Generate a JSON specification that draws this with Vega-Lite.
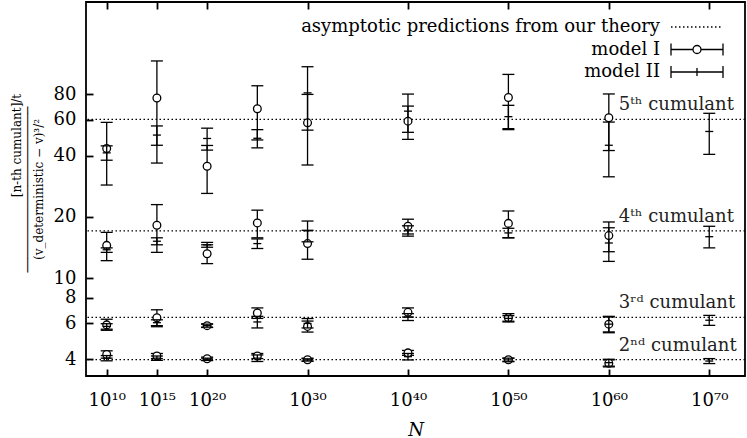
{
  "$schema": "https://vega.github.io/schema/vega-lite/v6.json",
  "width": 659,
  "height": 374,
  "autosize": {"type": "none"},
  "padding": {"left": 86, "top": 2, "right": 2, "bottom": 62},
  "background": "white",
  "config": {
    "view": {"stroke": "black", "strokeWidth": 1.8},
    "font": "DejaVu Serif",
    "axis": {"grid": false, "domain": false, "tickColor": "black", "tickWidth": 1.8, "labelColor": "black", "labelFont": "DejaVu Serif", "labelFontSize": 18, "titleFont": "DejaVu Serif", "titleColor": "black", "titleFontWeight": "normal"}
  },
  "datasets": {
    "points": [
      {"N": 10, "model": "model I", "cumulant": 5, "value": 43.4, "lo": 28.7, "hi": 58.3},
      {"N": 10, "model": "model II", "cumulant": 5, "value": 41.3, "lo": 38.0, "hi": 44.7},
      {"N": 10, "model": "model I", "cumulant": 4, "value": 14.5, "lo": 12.2, "hi": 16.8},
      {"N": 10, "model": "model II", "cumulant": 4, "value": 13.8, "lo": 13.4, "hi": 14.1},
      {"N": 10, "model": "model I", "cumulant": 3, "value": 5.9, "lo": 5.55, "hi": 6.29},
      {"N": 10, "model": "model II", "cumulant": 3, "value": 5.8, "lo": 5.62, "hi": 5.98},
      {"N": 10, "model": "model I", "cumulant": 2, "value": 4.22, "lo": 4.05, "hi": 4.4},
      {"N": 10, "model": "model II", "cumulant": 2, "value": 4.05, "lo": 3.93, "hi": 4.17},
      {"N": 15, "model": "model I", "cumulant": 5, "value": 76.8, "lo": 36.8, "hi": 116.8},
      {"N": 15, "model": "model II", "cumulant": 5, "value": 50.5, "lo": 45.0, "hi": 56.0},
      {"N": 15, "model": "model I", "cumulant": 4, "value": 18.2, "lo": 13.4, "hi": 23.0},
      {"N": 15, "model": "model II", "cumulant": 4, "value": 15.2, "lo": 14.6, "hi": 15.8},
      {"N": 15, "model": "model I", "cumulant": 3, "value": 6.4, "lo": 5.78, "hi": 7.0},
      {"N": 15, "model": "model II", "cumulant": 3, "value": 6.05, "lo": 5.85, "hi": 6.25},
      {"N": 15, "model": "model I", "cumulant": 2, "value": 4.15, "lo": 4.03, "hi": 4.27},
      {"N": 15, "model": "model II", "cumulant": 2, "value": 4.05, "lo": 3.95, "hi": 4.15},
      {"N": 20, "model": "model I", "cumulant": 5, "value": 35.5, "lo": 26.1, "hi": 44.9},
      {"N": 20, "model": "model II", "cumulant": 5, "value": 48.6, "lo": 42.6, "hi": 54.6},
      {"N": 20, "model": "model I", "cumulant": 4, "value": 13.2, "lo": 11.8, "hi": 14.6},
      {"N": 20, "model": "model II", "cumulant": 4, "value": 14.6, "lo": 14.2, "hi": 15.0},
      {"N": 20, "model": "model I", "cumulant": 3, "value": 5.85, "lo": 5.73, "hi": 5.97},
      {"N": 20, "model": "model II", "cumulant": 3, "value": 5.85, "lo": 5.75, "hi": 5.95},
      {"N": 20, "model": "model I", "cumulant": 2, "value": 4.02, "lo": 3.94, "hi": 4.1},
      {"N": 20, "model": "model II", "cumulant": 2, "value": 4.0, "lo": 3.95, "hi": 4.05},
      {"N": 25, "model": "model I", "cumulant": 5, "value": 68.0, "lo": 47.8, "hi": 88.2},
      {"N": 25, "model": "model II", "cumulant": 5, "value": 48.7, "lo": 43.7, "hi": 53.7},
      {"N": 25, "model": "model I", "cumulant": 4, "value": 18.7, "lo": 15.8, "hi": 21.6},
      {"N": 25, "model": "model II", "cumulant": 4, "value": 14.8, "lo": 14.0, "hi": 15.6},
      {"N": 25, "model": "model I", "cumulant": 3, "value": 6.75, "lo": 6.35, "hi": 7.15},
      {"N": 25, "model": "model II", "cumulant": 3, "value": 6.1, "lo": 5.7, "hi": 6.5},
      {"N": 25, "model": "model I", "cumulant": 2, "value": 4.15, "lo": 4.03, "hi": 4.27},
      {"N": 25, "model": "model II", "cumulant": 2, "value": 4.05, "lo": 3.9, "hi": 4.2},
      {"N": 30, "model": "model I", "cumulant": 5, "value": 58.0, "lo": 36.0, "hi": 80.0},
      {"N": 30, "model": "model II", "cumulant": 5, "value": 81.4, "lo": 53.4, "hi": 109.4},
      {"N": 30, "model": "model I", "cumulant": 4, "value": 14.8, "lo": 12.4, "hi": 17.2},
      {"N": 30, "model": "model II", "cumulant": 4, "value": 17.1, "lo": 15.1, "hi": 19.1},
      {"N": 30, "model": "model I", "cumulant": 3, "value": 5.8, "lo": 5.44, "hi": 6.16},
      {"N": 30, "model": "model II", "cumulant": 3, "value": 6.0, "lo": 5.7, "hi": 6.34},
      {"N": 30, "model": "model I", "cumulant": 2, "value": 3.98, "lo": 3.91, "hi": 4.05},
      {"N": 30, "model": "model II", "cumulant": 2, "value": 3.97, "lo": 3.92, "hi": 4.02},
      {"N": 40, "model": "model I", "cumulant": 5, "value": 59.1, "lo": 48.1, "hi": 70.1},
      {"N": 40, "model": "model II", "cumulant": 5, "value": 66.2, "lo": 52.1, "hi": 80.3},
      {"N": 40, "model": "model I", "cumulant": 4, "value": 18.0, "lo": 16.5, "hi": 19.5},
      {"N": 40, "model": "model II", "cumulant": 4, "value": 17.1, "lo": 16.1, "hi": 18.1},
      {"N": 40, "model": "model I", "cumulant": 3, "value": 6.8, "lo": 6.45, "hi": 7.15},
      {"N": 40, "model": "model II", "cumulant": 3, "value": 6.45, "lo": 6.2, "hi": 6.7},
      {"N": 40, "model": "model I", "cumulant": 2, "value": 4.3, "lo": 4.18, "hi": 4.42},
      {"N": 40, "model": "model II", "cumulant": 2, "value": 4.12, "lo": 3.97, "hi": 4.27},
      {"N": 50, "model": "model I", "cumulant": 5, "value": 77.3, "lo": 54.3, "hi": 100.3},
      {"N": 50, "model": "model II", "cumulant": 5, "value": 62.2, "lo": 53.7, "hi": 70.7},
      {"N": 50, "model": "model I", "cumulant": 4, "value": 18.6, "lo": 15.8, "hi": 21.4},
      {"N": 50, "model": "model II", "cumulant": 4, "value": 16.7, "lo": 15.8, "hi": 17.6},
      {"N": 50, "model": "model I", "cumulant": 3, "value": 6.4, "lo": 6.1, "hi": 6.7},
      {"N": 50, "model": "model II", "cumulant": 3, "value": 6.35, "lo": 6.15, "hi": 6.55},
      {"N": 50, "model": "model I", "cumulant": 2, "value": 3.98, "lo": 3.91, "hi": 4.05},
      {"N": 50, "model": "model II", "cumulant": 2, "value": 3.97, "lo": 3.89, "hi": 4.05},
      {"N": 60, "model": "model I", "cumulant": 5, "value": 61.4, "lo": 42.4, "hi": 80.4},
      {"N": 60, "model": "model II", "cumulant": 5, "value": 45.0, "lo": 31.5, "hi": 58.5},
      {"N": 60, "model": "model I", "cumulant": 4, "value": 16.2, "lo": 13.5, "hi": 18.9},
      {"N": 60, "model": "model II", "cumulant": 4, "value": 14.9, "lo": 12.1, "hi": 17.7},
      {"N": 60, "model": "model I", "cumulant": 3, "value": 5.95, "lo": 5.45, "hi": 6.45},
      {"N": 60, "model": "model II", "cumulant": 3, "value": 5.95, "lo": 5.4, "hi": 6.5},
      {"N": 60, "model": "model I", "cumulant": 2, "value": 3.82, "lo": 3.67, "hi": 3.97},
      {"N": 60, "model": "model II", "cumulant": 2, "value": 3.85, "lo": 3.7, "hi": 4.0},
      {"N": 70, "model": "model II", "cumulant": 5, "value": 52.6, "lo": 40.6, "hi": 64.6},
      {"N": 70, "model": "model II", "cumulant": 4, "value": 16.0, "lo": 14.1, "hi": 18.0},
      {"N": 70, "model": "model II", "cumulant": 3, "value": 6.22, "lo": 5.87, "hi": 6.57},
      {"N": 70, "model": "model II", "cumulant": 2, "value": 3.92, "lo": 3.81, "hi": 4.03}
    ],
    "predictions": [
      {"cumulant": 2, "prediction": 3.985, "label": "2ⁿᵈ cumulant"},
      {"cumulant": 3, "prediction": 6.43, "label": "3ʳᵈ cumulant"},
      {"cumulant": 4, "prediction": 17.1, "label": "4ᵗʰ cumulant"},
      {"cumulant": 5, "prediction": 60.3, "label": "5ᵗʰ cumulant"}
    ],
    "legendEntries": [
      {"series": "asymptotic predictions from our theory"},
      {"series": "model I"},
      {"series": "model II"}
    ]
  },
  "layer": [
    {
      "data": {"name": "predictions"},
      "mark": {"type": "rule", "color": "black", "strokeWidth": 1.3, "strokeDash": [1.5, 2.5]},
      "encoding": {
        "y": {"field": "prediction", "type": "quantitative", "scale": {"type": "log", "domain": [3.31, 227.5], "nice": false},
          "axis": {"values": [4, 6, 8, 10, 20, 40, 60, 80], "format": "d", "tickSize": -7, "labelPadding": 17,
            "title": ["\u2800\u2800\u2800\u2800\u2800\u2800\u2800\u2800\u2800\u2800[n-th cumulant]/t", "───────────────────────", "(v_deterministic − v)³/²"],
            "titleFontSize": 12, "titleLineHeight": 11, "titlePadding": 8}}
      }
    },
    {
      "data": {"name": "points"},
      "transform": [{"filter": "datum.model === 'model I'"}],
      "mark": {"type": "rule", "color": "black", "strokeWidth": 1.3},
      "encoding": {
        "x": {"field": "N", "type": "quantitative", "scale": {"domain": [7.94, 73.56], "nice": false, "zero": false},
          "axis": {"values": [10, 15, 20, 30, 40, 50, 60, 70], "format": "d", "tickSize": -7, "labelPadding": 22,
            "labelExpr": "'10' + replace(replace(replace(replace(replace(replace(replace(replace(datum.label,'0','⁰'),'1','¹'),'2','²'),'3','³'),'4','⁴'),'5','⁵'),'6','⁶'),'7','⁷')",
            "title": "N", "titleFontStyle": "italic", "titleFontSize": 18, "titlePadding": 12}},
        "y": {"field": "lo", "type": "quantitative", "scale": {"type": "log", "domain": [3.31, 227.5], "nice": false}, "axis": null},
        "y2": {"field": "hi"}
      }
    },
    {
      "data": {"name": "points"},
      "transform": [{"filter": "datum.model === 'model I'"}],
      "mark": {"type": "tick", "orient": "horizontal", "color": "black", "size": 12, "thickness": 1.3, "opacity": 1},
      "encoding": {
        "x": {"field": "N", "type": "quantitative", "axis": null},
        "y": {"field": "lo", "type": "quantitative", "axis": null}
      }
    },
    {
      "data": {"name": "points"},
      "transform": [{"filter": "datum.model === 'model I'"}],
      "mark": {"type": "tick", "orient": "horizontal", "color": "black", "size": 12, "thickness": 1.3, "opacity": 1},
      "encoding": {
        "x": {"field": "N", "type": "quantitative", "axis": null},
        "y": {"field": "hi", "type": "quantitative", "axis": null}
      }
    },
    {
      "data": {"name": "points"},
      "transform": [{"filter": "datum.model === 'model I'"}],
      "mark": {"type": "point", "shape": "circle", "filled": true, "fill": "white", "stroke": "black", "strokeWidth": 1.3, "size": 60, "opacity": 1},
      "encoding": {
        "x": {"field": "N", "type": "quantitative", "axis": null},
        "y": {"field": "value", "type": "quantitative", "axis": null}
      }
    },
    {
      "data": {"name": "points"},
      "transform": [{"filter": "datum.model === 'model II'"}],
      "mark": {"type": "rule", "color": "black", "strokeWidth": 1.3},
      "encoding": {
        "x": {"field": "N", "type": "quantitative", "axis": null},
        "y": {"field": "lo", "type": "quantitative", "axis": null},
        "y2": {"field": "hi"}
      }
    },
    {
      "data": {"name": "points"},
      "transform": [{"filter": "datum.model === 'model II'"}],
      "mark": {"type": "tick", "orient": "horizontal", "color": "black", "size": 12, "thickness": 1.3, "opacity": 1},
      "encoding": {
        "x": {"field": "N", "type": "quantitative", "axis": null},
        "y": {"field": "lo", "type": "quantitative", "axis": null}
      }
    },
    {
      "data": {"name": "points"},
      "transform": [{"filter": "datum.model === 'model II'"}],
      "mark": {"type": "tick", "orient": "horizontal", "color": "black", "size": 12, "thickness": 1.3, "opacity": 1},
      "encoding": {
        "x": {"field": "N", "type": "quantitative", "axis": null},
        "y": {"field": "hi", "type": "quantitative", "axis": null}
      }
    },
    {
      "data": {"name": "points"},
      "transform": [{"filter": "datum.model === 'model II'"}],
      "mark": {"type": "tick", "orient": "horizontal", "color": "black", "size": 8, "thickness": 1.3, "opacity": 1},
      "encoding": {
        "x": {"field": "N", "type": "quantitative",
          "axis": {"orient": "top", "values": [10, 15, 20, 30, 40, 50, 60, 70], "labels": false, "tickSize": -7, "title": null}},
        "y": {"field": "value", "type": "quantitative", "axis": null}
      }
    },
    {
      "data": {"name": "predictions"},
      "mark": {"type": "text", "align": "left", "baseline": "alphabetic", "dy": -9, "font": "DejaVu Serif", "fontSize": 18, "color": "#222"},
      "encoding": {
        "x": {"datum": 61.0, "type": "quantitative", "axis": null},
        "y": {"field": "prediction", "type": "quantitative", "axis": null},
        "text": {"field": "label"}
      }
    },
    {
      "data": {"name": "legendEntries"},
      "mark": {"type": "point", "opacity": 0},
      "encoding": {
        "shape": {"field": "series", "type": "nominal",
          "scale": {"domain": ["asymptotic predictions from our theory", "model I", "model II"],
            "range": [
              "M-5.2,0H-4.9M-4.4,0H-4.1M-3.6,0H-3.3M-2.8,0H-2.5M-2,0H-1.7M-1.2,0H-0.9M-0.4,0H-0.1M0.4,0H0.7M1.2,0H1.5M2,0H2.3M2.8,0H3.1M3.6,0H3.9M4.4,0H4.7",
              "M-5.2,-1.2V1.2M-5.2,0H-0.8M0.8,0H5.2M5.2,-1.2V1.2M-0.8,0A0.8,0.8,0,1,0,0.8,0A0.8,0.8,0,1,0,-0.8,0Z",
              "M-5.2,-1.2V1.2M-5.2,0H5.2M5.2,-1.2V1.2M0,-0.8V0.8"
            ]},
          "legend": {"title": null, "orient": "none", "legendX": 194, "legendY": 16, "padding": 0,
            "labelAlign": "right", "labelOffset": -46, "symbolOffset": 408, "labelLimit": 0,
            "labelFont": "DejaVu Serif", "labelFontSize": 18, "labelColor": "black", "rowPadding": 4.5,
            "symbolSize": 100, "symbolStrokeWidth": 1.3, "symbolStrokeColor": "black", "symbolFillColor": "transparent", "symbolOpacity": 1}}
      }
    }
  ],
  "resolve": {"axis": {"x": "independent", "y": "independent"}}
}
